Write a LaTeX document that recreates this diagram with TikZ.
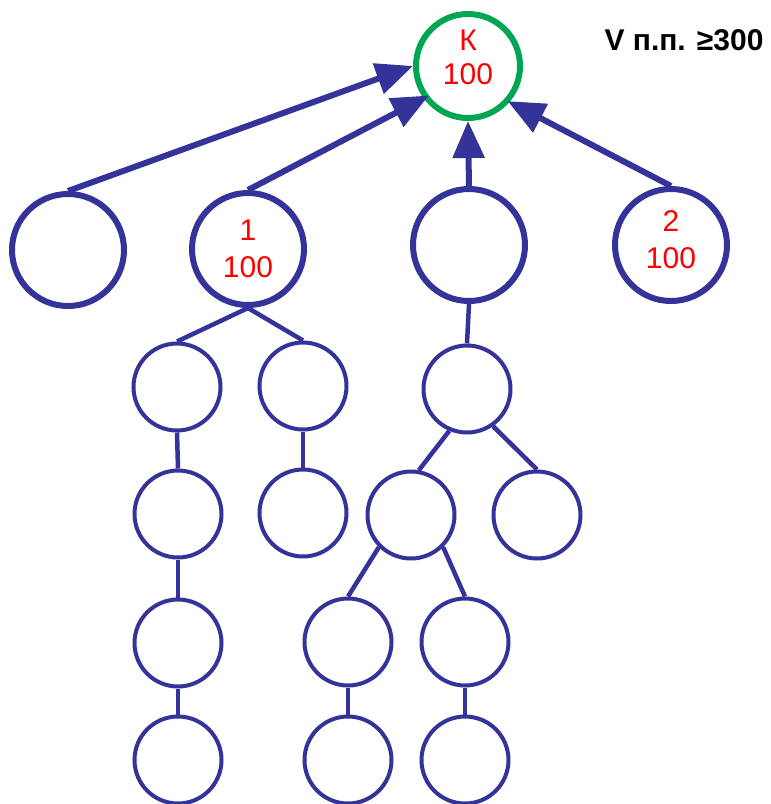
\documentclass[tikz,border=0pt]{standalone}
\usepackage{fontspec}
\setmainfont{Liberation Sans}
\usetikzlibrary{arrows.meta}
\definecolor{treeblue}{RGB}{51,51,153}
\definecolor{rootgreen}{RGB}{0,166,81}
\tikzset{
	bignode/.style={circle, draw=treeblue, line width=6pt, minimum size=112pt, inner sep=0pt, text=red, align=center, font=\fontsize{30}{37}\selectfont},
	smallnode/.style={circle, draw=treeblue, line width=4pt, minimum size=87pt, inner sep=0pt},
	rootnode/.style={circle, draw=rootgreen, line width=6pt, minimum size=104pt, inner sep=0pt, text=red, align=center, text depth=18pt, font=\fontsize{30}{34}\selectfont},
	uparrow/.style={draw=treeblue, line width=6pt, -{Triangle[length=37pt, width=31pt]}},
	link/.style={draw=treeblue, line width=4.5pt}
}
\begin{document}
\begin{tikzpicture}[x=1pt, y=-1pt]
			\useasboundingbox (0,0) rectangle (771,804);
			\node[rootnode] (root) at (468, 66) {К\\100};
			\node[font=\fontsize{30}{34}\selectfont\bfseries] (vol) at (684, 40) {V п.п. ≥300};

			\node[bignode] (a) at (68, 250) {};
			\node[bignode] (b) at (248, 249) {1\\100};
			\node[bignode] (c) at (469, 245) {};
			\node[bignode, text depth=10pt] (d) at (671, 245) {2\\100};

			\node[smallnode] (b1) at (177, 387) {};
			\node[smallnode] (b2) at (303, 386) {};
			\node[smallnode] (c1) at (467, 389) {};
			\node[smallnode] (b1a) at (178, 514) {};
			\node[smallnode] (b2a) at (303, 513) {};
			\node[smallnode] (c1a) at (411, 515) {};
			\node[smallnode] (c1b) at (537, 515) {};
			\node[smallnode] (b1b) at (178, 643) {};
			\node[smallnode] (c1a1) at (348, 642) {};
			\node[smallnode] (c1a2) at (465, 642) {};
			\node[smallnode] (b1c) at (178, 760) {};
			\node[smallnode] (c1a1a) at (348, 760) {};
			\node[smallnode] (c1a2a) at (465, 760) {};

			\draw[uparrow] (a.north) -- (root.west);
			\draw[uparrow, shorten >=-6pt] (b.north) -- (root.216);
			\draw[uparrow] (c.north) -- (root.south);
			\draw[uparrow, shorten >=-2pt] (d.north) -- (root.-41);

			\draw[link] (b.south) -- (b1.north);
			\draw[link] (b.south) -- (b2.north);
			\draw[link] (c.south) -- (c1.north);
			\draw[link] (b1.south) -- (b1a.north);
			\draw[link] (b2.south) -- (b2a.north);
			\draw[link] (c1.-113) -- (c1a.80);
			\draw[link] (c1.-55) -- (c1b.north);
			\draw[link] (b1a.south) -- (b1b.north);
			\draw[link] (c1a.-135) -- (c1a1.north);
			\draw[link] (c1a.-45) -- (c1a2.north);
			\draw[link] (b1b.south) -- (b1c.north);
			\draw[link] (c1a1.south) -- (c1a1a.north);
			\draw[link] (c1a2.south) -- (c1a2a.north);
		\end{tikzpicture}
\end{document}
